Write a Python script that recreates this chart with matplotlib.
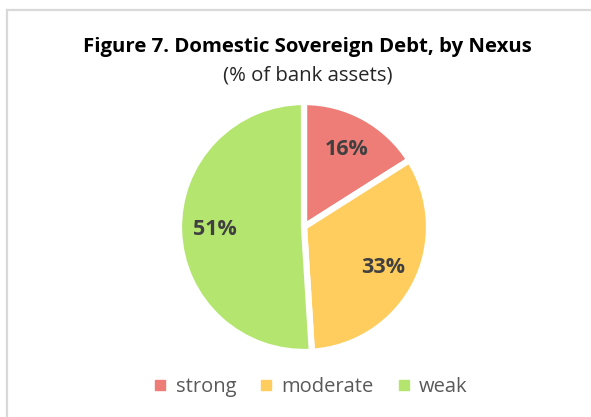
import matplotlib
matplotlib.use('Agg')
import matplotlib.pyplot as plt
from matplotlib.lines import Line2D

plt.rcParams['font.family'] = ['Open Sans', 'DejaVu Sans']

# share of bank assets held as domestic sovereign debt, by nexus strength
categories = ['strong', 'moderate', 'weak']
shares = [16, 33, 51]
colors = ['#ED7D76', '#FFCD5E', '#B3E56F']

W, H = 591, 417
fig = plt.figure(figsize=(W / 100, H / 100), dpi=100)

# pie axes: centre and radius in pixels
cx, cy, r = 304, 227, 125
ax = fig.add_axes([(cx - r) / W, 1 - (cy + r) / H, 2 * r / W, 2 * r / H])
wedges, texts, autotexts = ax.pie(
    shares, colors=colors, startangle=90, counterclock=False, radius=1,
    autopct=lambda p: f'{p:.0f}%', pctdistance=0.71,
    wedgeprops=dict(edgecolor='white', linewidth=4.5),
    textprops=dict(color='#404040', fontsize=15.5, fontweight='bold'))
ax.set_xlim(-1, 1)
ax.set_ylim(-1, 1)
ax.axis('off')

fig.text(307 / W, 1 - 47 / H, 'Figure 7. Domestic Sovereign Debt, by Nexus',
         ha='center', va='center', fontsize=14.7, fontweight='bold', color='black')
fig.text(308 / W, 1 - 75 / H, '(% of bank assets)',
         ha='center', va='center', fontsize=14.7, color='#262626')

handles = [Line2D([], [], marker='s', linestyle='none', markersize=6.5,
                  markerfacecolor=c, markeredgecolor=c) for c in colors]
fig.legend(handles, categories, loc='center', bbox_to_anchor=(311 / W, 1 - 387 / H),
           ncol=3, frameon=False, fontsize=14.5, labelcolor='#595959',
           handlelength=0.6, handletextpad=0.45, columnspacing=1.2)

# chart frame (only the top and left edges fall inside the image)
frame = dict(color='#D9D9D9', linewidth=1.6, transform=fig.transFigure)
fig.add_artist(Line2D([6.5 / W, 6.5 / W], [0, 1 - 9.5 / H], **frame))
fig.add_artist(Line2D([6.5 / W, 1], [1 - 9.5 / H, 1 - 9.5 / H], **frame))

fig.savefig('out.png', dpi=100)
